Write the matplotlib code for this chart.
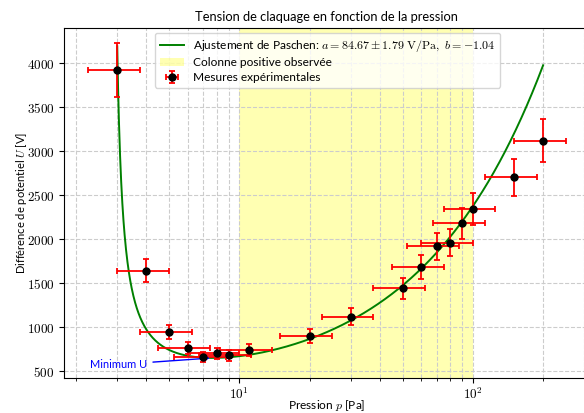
import numpy as np
import matplotlib
matplotlib.use("Agg")
import matplotlib.pyplot as plt
from matplotlib.ticker import FuncFormatter, LogLocator, MultipleLocator

plt.rcParams['font.family'] = ['Lato', 'DejaVu Sans']
plt.rcParams['mathtext.fontset'] = 'cm'

# Data
pression = [3, 4, 5, 6, 7, 8, 9, 11, 20, 30, 50, 60, 70, 80, 90, 100, 150, 200]
tension = [3920, 1640, 940, 760, 660, 700, 680, 740, 900, 1120, 1440, 1680,
           1920, 1960, 2180, 2340, 2700, 3120]
err_p = [0.75, 1.0, 1.25, 1.5, 1.75, 2.0, 2.25, 2.75, 5.0, 7.5, 12.5, 15.0,
         17.5, 20.0, 22.5, 25.0, 37.5, 50.0]
err_u = [304, 133, 80, 67, 60, 62, 61, 65, 77, 94, 118, 136, 154, 157, 174,
         185, 212, 244]
a_fit = 84.67
b_fit = -1.038
span = [10, 100]

fig = plt.figure(figsize=(5.84, 4.13), dpi=100)
ax = fig.add_axes([0.1101, 0.0840, 0.8993, 0.8489])
ax.set_xscale('log')

ax.axvspan(span[0], span[1], color='yellow', alpha=0.3, lw=0,
           label='Colonne positive observée', zorder=0)

p_fit = np.logspace(np.log10(min(pression)), np.log10(max(pression)), 1500)
u_fit = a_fit * p_fit / (np.log(p_fit) + b_fit)
ax.plot(p_fit, u_fit, color='green', lw=1.4,
        label=r'Ajustement de Paschen: $a = 84.67 \pm 1.79\ \mathrm{V/Pa},\ b = -1.04$',
        zorder=2)

ax.errorbar(pression, tension, xerr=err_p, yerr=err_u, fmt='o', color='black',
            ecolor='red', elinewidth=1.3, capsize=2, capthick=1.3, markersize=5,
            label='Mesures expérimentales', zorder=3)

p_min = np.exp(1 - b_fit)
u_min = a_fit * p_min / (np.log(p_min) + b_fit)
ax.annotate('Minimum U', xy=(p_min, u_min), xytext=(2.3, 535), color='blue',
            fontsize=7.9, arrowprops=dict(arrowstyle='->', color='blue', lw=1))

ax.set_xlim(1.78, 316)
ax.set_ylim(418, 4402)
ax.yaxis.set_major_locator(MultipleLocator(500))
ax.yaxis.set_major_formatter(FuncFormatter(lambda v, pos: r'$%d$' % v))
ax.xaxis.set_major_locator(LogLocator(base=10))
ax.xaxis.set_major_formatter(FuncFormatter(lambda v, pos: r'$10^{%d}$' % round(np.log10(v))))
ax.tick_params(labelsize=9.5)
ax.tick_params(axis='x', pad=1.5)

ax.grid(True, which='major', linestyle='--', color='#cccccc', lw=0.8)
ax.grid(True, which='minor', axis='x', linestyle='--', color='#cccccc', lw=0.8)
ax.set_axisbelow(True)

ax.set_title('Tension de claquage en fonction de la pression', fontsize=9.3, pad=5)
ax.set_xlabel(r'Pression $p$ [Pa]', fontsize=8.6, va='center')
ax.xaxis.set_label_coords(0.5, -0.0776)
ax.set_ylabel(r'Différence de potentiel $U$ [V]', fontsize=8.0, va='center')
ax.yaxis.set_label_coords(-0.0824, 0.5)

handles, labels = ax.get_legend_handles_labels()
order = [1, 0, 2]
ax.legend([handles[i] for i in order], [labels[i] for i in order],
          loc='upper left', bbox_to_anchor=(0.1727, 0.985), borderaxespad=0,
          fontsize=8.6, labelspacing=0.3)

fig.savefig('out.png', dpi=100)
